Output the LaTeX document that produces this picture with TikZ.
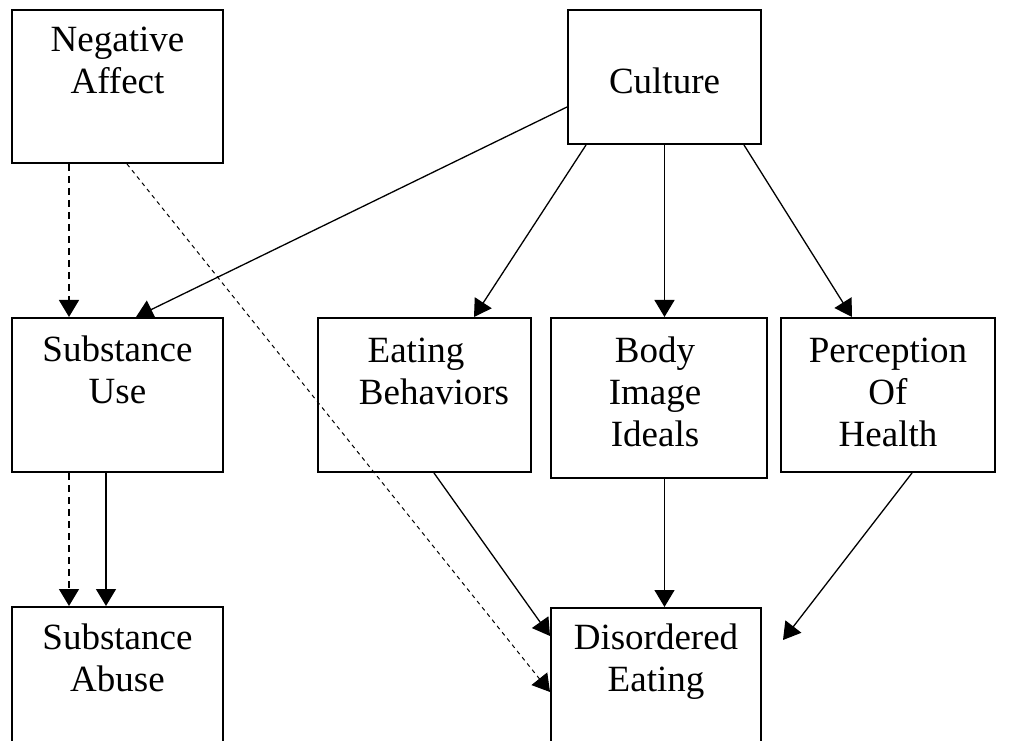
\documentclass[tikz,border=0pt]{standalone}
\usepackage{fontspec}
\setmainfont{Liberation Serif}
\usetikzlibrary{arrows.meta,calc}
\tikzset{
  box/.style={draw, line width=2pt, inner sep=0pt},
  lbl/.style={anchor=base, align=center, inner sep=0pt, font=\fontsize{37}{42}\selectfont},
  arr/.style={line width=1.3pt, -{Triangle[length=17pt,width=20pt]}},
  dsh/.style={arr, dash pattern=on 7pt off 5pt},
  dotl/.style={arr, line width=1pt, dash pattern=on 4pt off 4pt},
}
\begin{document}
\begin{tikzpicture}[x=1pt, y=1pt]
\clip (0,0) rectangle (1020,740);
\fill [white] (0,0) rectangle (1020,740);
% boxes
\node [box, minimum width=211pt, minimum height=153pt] (neg) at (117.5,653.5) {};
\node [box, minimum width=193pt, minimum height=134pt] (cult) at (664.5,663) {};
\node [box, minimum width=211pt, minimum height=154pt] (use) at (117.5,345) {};
\node [box, minimum width=213pt, minimum height=154pt] (eat) at (424.5,345) {};
\node [box, minimum width=216pt, minimum height=160pt] (body) at (659,342) {};
\node [box, minimum width=214pt, minimum height=154pt] (perc) at (888,345) {};
\node [box, minimum width=211pt, minimum height=173pt] (abuse) at (117.5,46.5) {};
\node [box, minimum width=210pt, minimum height=172pt] (dis) at (656,46) {};
% texts (base = last line)
\node [lbl] (negT) at ([yshift=-85pt]neg.north) {Negative\\Affect};
\node [lbl] (cultT) at ([yshift=-85pt]cult.north) {Culture};
\node [lbl] (useT) at ([yshift=-86pt]use.north) {Substance\\Use};
\node [lbl] (eatT) at ([xshift=9.5pt,yshift=-87pt]eat.north) {Eating\hspace*{36pt}\\Behaviors};
\node [lbl] (bodyT) at ([xshift=-4pt,yshift=-129pt]body.north) {Body\\Image\\Ideals};
\node [lbl] (percT) at ([yshift=-129pt]perc.north) {Perception\\Of\\Health};
\node [lbl] (abuseT) at ([yshift=-85pt]abuse.north) {Substance\\Abuse};
\node [lbl] (disT) at ([yshift=-84pt]dis.north) {Disordered\\Eating};
\coordinate (pe) at (783,100);
% arrows
\draw [dsh] ($(neg.south west)+(58,0)$) -- ($(use.north west)+(58,0)$);
\draw [dotl] ($(neg.south west)+(116,0)$) -- ($(dis.north west)+(0,-85)$);
\draw [arr] ($(cult.south west)+(0,38)$) -- ($(use.north west)+(125,0)$);
\draw [arr] ($(cult.south west)+(19,0)$) -- ($(eat.north west)+(157,0)$);
\draw [arr] (cult.south) -- (cult.south |- body.north);
\draw [arr] ($(cult.south east)+(-18,0)$) -- ($(perc.north west)+(72,0)$);
\draw [dsh] ($(use.south west)+(58,0)$) -- ($(abuse.north west)+(58,0)$);
\draw [arr] ($(use.south west)+(95,0)$) -- ($(abuse.north west)+(95,0)$);
\draw [arr] ($(eat.south west)+(117,0)$) -- ($(dis.north west)+(0,-29)$);
\draw [arr] (body.south -| cult.south) -- (dis.north -| cult.south);
\draw [arr] ($(perc.south west)+(132,0)$) -- (pe);
\end{tikzpicture}
\end{document}
